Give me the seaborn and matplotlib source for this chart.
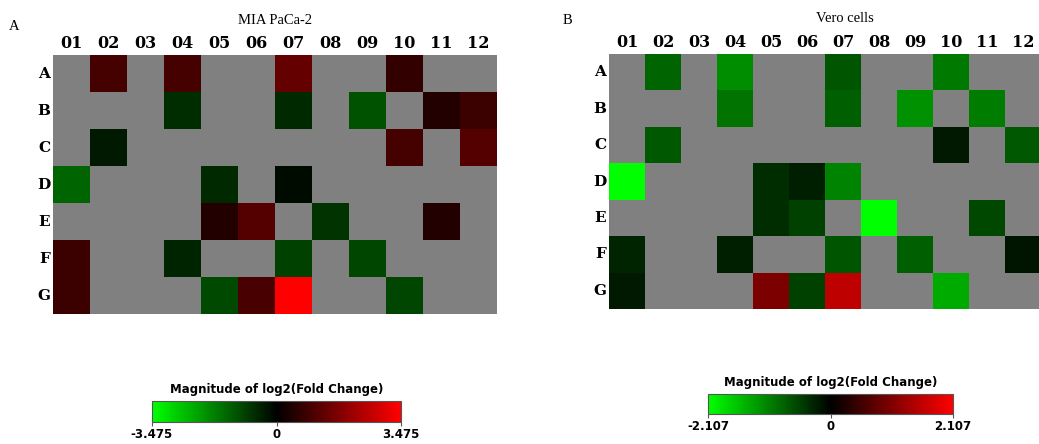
import numpy as np
import pandas as pd
import matplotlib
matplotlib.use("Agg")
import matplotlib.pyplot as plt
from matplotlib.colors import LinearSegmentedColormap
import seaborn as sns

N = np.nan

# plate layout
rows = ["A", "B", "C", "D", "E", "F", "G"]
cols = ["01", "02", "03", "04", "05", "06", "07", "08", "09", "10", "11", "12"]

# log2 fold change per well (NaN = no change, grey)
mia_values = [
    [N, 0.95, N, 0.95, N, N, 1.36, N, N, 0.68, N, N],
    [N, N, N, -0.60, N, N, -0.55, N, -1.10, N, 0.48, 0.80],
    [N, -0.35, N, N, N, N, N, N, N, 0.95, N, 1.15],
    [-1.36, N, N, N, -0.55, N, -0.14, N, N, N, N, N],
    [N, N, N, N, 0.48, 1.15, N, -0.68, N, N, 0.48, N],
    [0.80, N, N, -0.48, N, N, -0.88, N, -0.95, N, N, N],
    [0.80, N, N, N, -1.00, 1.00, 3.475, N, N, -0.95, N, N],
]
vero_values = [
    [N, -0.83, N, -1.16, N, N, -0.70, N, N, -1.00, N, N],
    [N, N, N, -0.95, N, N, -0.78, N, -1.20, N, -1.03, N],
    [N, -0.74, N, N, N, N, N, N, N, -0.21, N, -0.74],
    [-2.107, N, N, N, -0.37, -0.25, -1.07, N, N, N, N, N],
    [N, N, N, N, -0.37, -0.54, N, -2.107, N, N, -0.58, N],
    [-0.29, N, N, -0.25, N, N, -0.70, N, -0.78, N, N, -0.17],
    [-0.21, N, N, N, 1.03, -0.54, 1.57, N, N, -1.40, N, N],
]
mia_limit = 3.475
vero_limit = 2.107

cmap = LinearSegmentedColormap.from_list("gbr", ["#00ff00", "#000000", "#ff0000"])

fig = plt.figure(figsize=(10.39, 4.44), dpi=100)


def draw_panel(values, limit, ax_rect, cax_rect, title, title_xy, letter, letter_xy):
    df = pd.DataFrame(values, index=rows, columns=cols)
    ax = fig.add_axes(ax_rect)
    cax = fig.add_axes(cax_rect)
    ax.set_facecolor("#808080")
    sns.heatmap(df, ax=ax, cmap=cmap, vmin=-limit, vmax=limit,
                cbar=True, cbar_ax=cax, cbar_kws={"orientation": "horizontal"})
    ax.xaxis.tick_top()
    ax.tick_params(length=0, pad=2)
    ax.set_xticklabels(cols, rotation=0, fontsize=11.5, fontweight="bold",
                       family="DejaVu Serif")
    ax.set_yticklabels(rows, rotation=0, fontsize=11, fontweight="bold",
                       family="DejaVu Serif")
    ax.set_xlabel("")
    ax.set_ylabel("")

    # colorbar styling
    cb = ax.collections[0].colorbar
    cb.set_ticks([-limit, 0, limit])
    cb.set_ticklabels([f"-{limit}", "0", f"{limit}"])
    cb.outline.set_edgecolor("#555555")
    cb.outline.set_linewidth(0.8)
    cax.tick_params(length=3, width=0.8, pad=1, labelsize=8.5, color="#555555")
    for t in cax.get_xticklabels():
        t.set_fontweight("bold")
    cax.set_title("Magnitude of log2(Fold Change)", fontsize=8.5,
                  fontweight="bold", pad=6)

    fig.text(title_xy[0], title_xy[1], title, ha="center", va="center",
             fontsize=10.5, family="Liberation Serif")
    fig.text(letter_xy[0], letter_xy[1], letter, ha="left", va="center",
             fontsize=10.5, family="Liberation Serif")
    return ax


W, H = 1039.0, 444.0

draw_panel(mia_values, mia_limit,
           [53 / W, 1 - 314 / H, 444 / W, 259 / H],
           [152 / W, 1 - 422 / H, 249 / W, 21 / H],
           "MIA PaCa-2", (275 / W, 1 - 20 / H), "A", (9 / W, 1 - 26 / H))

draw_panel(vero_values, vero_limit,
           [609 / W, 1 - 309 / H, 432 / W, 255 / H],
           [708 / W, 1 - 414 / H, 245 / W, 20 / H],
           "Vero cells", (845 / W, 1 - 18 / H), "B", (563 / W, 1 - 21 / H))

fig.savefig("out.png", dpi=100)
